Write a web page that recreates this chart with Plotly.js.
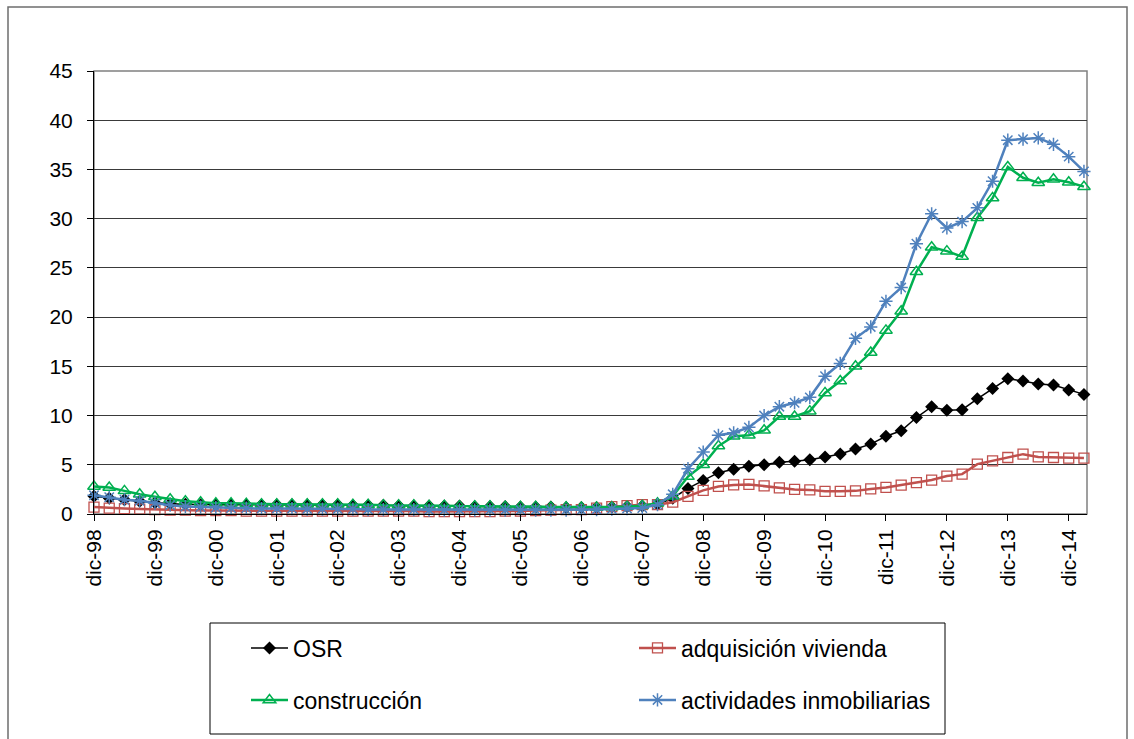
<!DOCTYPE html>
<html>
<head>
<meta charset="utf-8">
<script src="https://cdn.plot.ly/plotly-3.0.1.min.js"></script>
<style>
  html, body { margin: 0; padding: 0; background: #ffffff; }
  #chart { width: 1134px; height: 739px; }
</style>
</head>
<body>
<div id="chart"></div>
<script>
// Quarterly series, dic-98 .. mar-15
const quarterNames = ['dic', 'mar', 'jun', 'sep'];

const osr = [
  1.8, 1.6, 1.45, 1.3, 1.15, 1.05, 1.0, 0.95, 0.95, 0.95,
  0.95, 0.95, 0.95, 0.95, 0.95, 0.95, 0.95, 0.9, 0.9, 0.9,
  0.85, 0.85, 0.8, 0.8, 0.8, 0.75, 0.75, 0.75, 0.7, 0.7,
  0.7, 0.65, 0.65, 0.65, 0.7, 0.75, 0.8, 1.0, 1.6, 2.6,
  3.4, 4.2, 4.55, 4.85, 5.0, 5.25, 5.35, 5.5, 5.8, 6.1,
  6.6, 7.1, 7.9, 8.45, 9.8, 10.9, 10.55, 10.6, 11.7, 12.75,
  13.75, 13.5, 13.2, 13.1, 12.6, 12.15
];

const adquisicionVivienda = [
  0.7, 0.6, 0.55, 0.5, 0.45, 0.4, 0.4, 0.35, 0.35, 0.35,
  0.3, 0.3, 0.3, 0.3, 0.3, 0.3, 0.3, 0.3, 0.3, 0.3,
  0.3, 0.3, 0.25, 0.25, 0.25, 0.25, 0.25, 0.3, 0.3, 0.35,
  0.4, 0.45, 0.45, 0.6, 0.75, 0.85, 0.95, 0.95, 1.2, 1.8,
  2.4, 2.8, 2.95, 3.0, 2.85, 2.65, 2.5, 2.45, 2.3, 2.3,
  2.35, 2.55, 2.7, 2.94, 3.18, 3.45, 3.85, 4.05, 5.07, 5.4,
  5.74, 6.08, 5.8, 5.74, 5.68, 5.68
];

const construccion = [
  2.8, 2.7, 2.35, 2.0, 1.75, 1.5, 1.3, 1.2, 1.1, 1.1,
  1.05, 1.0, 1.0, 1.0, 1.0, 1.0, 1.0, 0.95, 0.95, 0.9,
  0.9, 0.9, 0.85, 0.85, 0.8, 0.8, 0.8, 0.75, 0.75, 0.75,
  0.7, 0.7, 0.65, 0.65, 0.7, 0.75, 0.85, 1.1, 1.8, 3.8,
  5.0, 6.9, 7.9, 8.0, 8.5, 9.9, 9.9, 10.45, 12.3, 13.5,
  15.0, 16.4, 18.65, 20.6, 24.6, 27.1, 26.7, 26.15, 30.1, 32.1,
  35.25, 34.15, 33.65, 34.0, 33.7, 33.25
];

const actividadesInmobiliarias = [
  1.9, 1.7, 1.45, 1.35, 1.1, 0.9, 0.75, 0.7, 0.65, 0.6,
  0.6, 0.55, 0.55, 0.55, 0.5, 0.5, 0.5, 0.5, 0.45, 0.45,
  0.45, 0.45, 0.4, 0.4, 0.4, 0.4, 0.4, 0.4, 0.4, 0.4,
  0.4, 0.4, 0.4, 0.45, 0.5, 0.55, 0.6, 0.95, 2.0, 4.6,
  6.3, 8.0, 8.25, 8.8, 10.0, 10.9, 11.3, 11.85, 14.0, 15.3,
  17.85, 19.0, 21.6, 23.0, 27.45, 30.5, 29.05, 29.7, 31.1, 33.8,
  37.97, 38.07, 38.2, 37.55, 36.3, 34.8
];

// Quarter labels: dic-98, mar-99, jun-99, sep-99, dic-99, ...
const quarters = osr.map((_, i) => {
  const yr = (98 + Math.ceil(i / 4)) % 100;
  return quarterNames[i % 4] + '-' + String(yr).padStart(2, '0');
});
const yearTicks = quarters.filter(q => q.startsWith('dic'));

const FONT = '"Liberation Sans", Arial, sans-serif';

const traces = [
  {
    name: 'OSR', x: quarters, y: osr, legend: 'legend',
    type: 'scatter', mode: 'lines+markers', cliponaxis: false,
    line: { color: '#000000', width: 1.5 },
    marker: { symbol: 'diamond', size: 10, color: '#000000' }
  },
  {
    name: 'adquisición vivienda', x: quarters, y: adquisicionVivienda, legend: 'legend',
    type: 'scatter', mode: 'lines+markers', cliponaxis: false,
    line: { color: '#C0504D', width: 2.5 },
    marker: { symbol: 'square-open', size: 10, color: '#C0504D', line: { width: 1.3 } }
  },
  {
    name: 'construcción', x: quarters, y: construccion, legend: 'legend2',
    type: 'scatter', mode: 'lines+markers', cliponaxis: false,
    line: { color: '#00B050', width: 2.5 },
    marker: { symbol: 'triangle-up-open', size: 11, color: '#00B050', line: { width: 1.5 } }
  },
  {
    name: 'actividades inmobiliarias', x: quarters, y: actividadesInmobiliarias, legend: 'legend2',
    type: 'scatter', mode: 'lines+markers', cliponaxis: false,
    line: { color: '#4F81BD', width: 2.5 },
    marker: { symbol: 'asterisk-open', size: 11, color: '#4F81BD', line: { width: 1.5, color: '#4F81BD' } }
  }
];

// pixel helpers for paper-referenced placement (plot area 94..1087 x 71..514)
const L = 94, R = 1087, T = 71, B = 514;
const px = x => (x - L) / (R - L);
const py = y => (B - y) / (B - T);

const legendCommon = {
  orientation: 'h', xanchor: 'left', yanchor: 'middle',
  bgcolor: 'rgba(0,0,0,0)', borderwidth: 0,
  entrywidth: 336, entrywidthmode: 'pixels',
  itemwidth: 37,
  font: { family: FONT, size: 23, color: '#000000' },
  itemclick: false, itemdoubleclick: false
};

const layout = {
  width: 1134, height: 739,
  margin: { l: L, r: 1134 - R, t: T, b: 739 - B, pad: 0 },
  paper_bgcolor: '#ffffff', plot_bgcolor: '#ffffff',
  font: { family: FONT, size: 21, color: '#000000' },
  showlegend: true,
  xaxis: {
    type: 'category',
    range: [0, 65.2],
    tickmode: 'array', tickvals: yearTicks, ticktext: yearTicks,
    tickangle: -90,
    ticks: 'outside', ticklen: 6, tickcolor: '#000000', tickwidth: 1,
    showline: true, linecolor: '#000000', linewidth: 1,
    showgrid: false, zeroline: false,
    tickfont: { family: FONT, size: 21, color: '#000000' },
    fixedrange: true
  },
  yaxis: {
    range: [0, 45], dtick: 5, tick0: 0,
    ticks: 'outside', ticklen: 6, tickcolor: '#000000', tickwidth: 1,
    showline: true, linecolor: '#000000', linewidth: 1,
    showgrid: true, gridcolor: '#3a3a3a', gridwidth: 1,
    zeroline: false,
    ticklabelstandoff: 10,
    tickfont: { family: FONT, size: 21, color: '#000000' },
    fixedrange: true
  },
  legend: Object.assign({}, legendCommon, { x: px(246), y: py(648) }),
  legend2: Object.assign({}, legendCommon, { x: px(246), y: py(700) }),
  shapes: [
    // chart frame
    { type: 'rect', xref: 'paper', yref: 'paper', layer: 'below',
      x0: px(8), x1: px(1127), y0: py(770), y1: py(7),
      line: { color: '#6e6e6e', width: 1.5 }, fillcolor: 'rgba(0,0,0,0)' },
    // plot area border
    { type: 'rect', xref: 'paper', yref: 'paper', layer: 'below',
      x0: 0, x1: 1, y0: 0, y1: 1,
      line: { color: '#808080', width: 1.5 }, fillcolor: 'rgba(0,0,0,0)' },
    // legend box
    { type: 'rect', xref: 'paper', yref: 'paper', layer: 'above',
      x0: px(210), x1: px(945), y0: py(734), y1: py(623),
      line: { color: '#000000', width: 1 }, fillcolor: 'rgba(0,0,0,0)' }
  ]
};

Plotly.newPlot('chart', traces, layout, { staticPlot: true, displayModeBar: false });
</script>
</body>
</html>
